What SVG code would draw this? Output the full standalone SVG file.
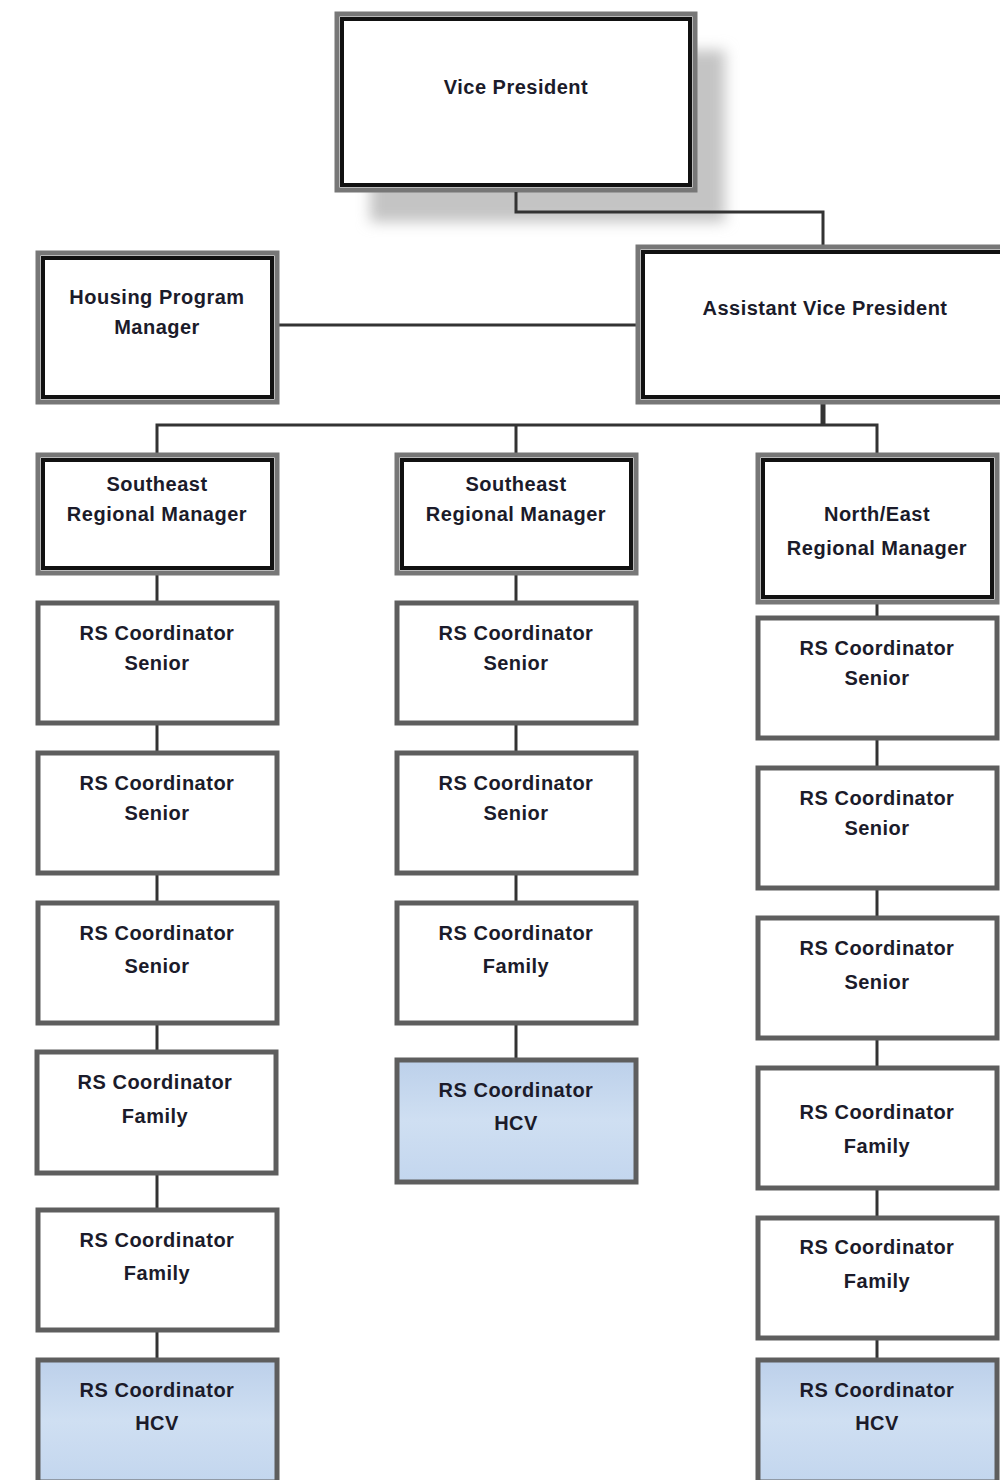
<svg xmlns="http://www.w3.org/2000/svg" width="1000" height="1480" viewBox="0 0 1000 1480">
<defs>
<filter id="blur" x="-20%" y="-20%" width="140%" height="140%"><feGaussianBlur stdDeviation="7"/></filter>
<linearGradient id="blue" x1="0" y1="0" x2="0" y2="1"><stop offset="0" stop-color="#bcd0ea"/><stop offset="0.5" stop-color="#cfdff2"/><stop offset="1" stop-color="#c3d6ee"/></linearGradient>
<style>
.t{font-family:"Liberation Sans Narrow","Liberation Sans",Arial,sans-serif;font-size:20px;fill:#1b1b2a;text-anchor:middle;font-weight:bold;letter-spacing:0.5px;}
.b{fill:#fff;stroke:#5e5e5e;stroke-width:5;}
.bl{fill:url(#blue);stroke:#5e5e5e;stroke-width:5;}
.m{fill:#fff;stroke:#777;stroke-width:5;}
.mi{fill:none;stroke:#111;stroke-width:4;}
.c{fill:none;stroke:#333;stroke-width:3;}
</style>
</defs>
<rect width="1000" height="1480" fill="#fff"/>
<g id="vp">
<rect x="370" y="50" width="355" height="172" fill="#c4c4c4" filter="url(#blur)"/>
<rect class="m" x="337" y="14" width="358" height="176"/>
<rect class="mi" x="342" y="19" width="348" height="166"/>
<text class="t" x="516" y="94">Vice President</text>
</g>
<g id="connectors">
<polyline class="c" points="516,192 516,212 823,212 823,245"/>
<line class="c" x1="277" y1="325" x2="636" y2="325"/>
<line class="c" x1="823" y1="402" x2="823" y2="425" style="stroke-width:5"/>
<polyline class="c" points="157,455 157,425 877,425 877,455"/>
<line class="c" x1="516" y1="425" x2="516" y2="455"/>
<line class="c" x1="157" y1="573" x2="157" y2="603"/>
<line class="c" x1="157" y1="723" x2="157" y2="753"/>
<line class="c" x1="157" y1="873" x2="157" y2="903"/>
<line class="c" x1="157" y1="1023" x2="157" y2="1052"/>
<line class="c" x1="157" y1="1173" x2="157" y2="1210"/>
<line class="c" x1="157" y1="1330" x2="157" y2="1360"/>
<line class="c" x1="516" y1="573" x2="516" y2="603"/>
<line class="c" x1="516" y1="723" x2="516" y2="753"/>
<line class="c" x1="516" y1="873" x2="516" y2="903"/>
<line class="c" x1="516" y1="1023" x2="516" y2="1060"/>
<line class="c" x1="877" y1="602" x2="877" y2="618"/>
<line class="c" x1="877" y1="738" x2="877" y2="768"/>
<line class="c" x1="877" y1="888" x2="877" y2="918"/>
<line class="c" x1="877" y1="1038" x2="877" y2="1068"/>
<line class="c" x1="877" y1="1188" x2="877" y2="1218"/>
<line class="c" x1="877" y1="1338" x2="877" y2="1360"/>
</g>
<g id="hpm">
<rect class="m" x="38" y="253" width="239" height="149"/>
<rect class="mi" x="43" y="258" width="229" height="139"/>
<text class="t" x="157" y="304">Housing Program</text>
<text class="t" x="157" y="334">Manager</text>
</g>
<g id="avp">
<rect class="m" x="638" y="247" width="370" height="155"/>
<rect class="mi" x="643" y="252" width="370" height="145"/>
<text class="t" x="825" y="315">Assistant Vice President</text>
</g>
<g id="se1">
<rect class="m" x="38" y="455" width="239" height="118"/>
<rect class="mi" x="43" y="460" width="229" height="108"/>
<text class="t" x="157" y="491">Southeast</text>
<text class="t" x="157" y="521">Regional Manager</text>
</g>
<g id="se2">
<rect class="m" x="397" y="455" width="239" height="118"/>
<rect class="mi" x="402" y="460" width="229" height="108"/>
<text class="t" x="516" y="491">Southeast</text>
<text class="t" x="516" y="521">Regional Manager</text>
</g>
<g id="ne">
<rect class="m" x="758" y="455" width="239" height="147"/>
<rect class="mi" x="763" y="460" width="229" height="137"/>
<text class="t" x="877" y="521">North/East</text>
<text class="t" x="877" y="555">Regional Manager</text>
</g>
<g id="c1n1"><rect class="b" x="38" y="603" width="239" height="120"/><text class="t" x="157" y="640">RS Coordinator</text><text class="t" x="157" y="670">Senior</text></g>
<g id="c1n2"><rect class="b" x="38" y="753" width="239" height="120"/><text class="t" x="157" y="790">RS Coordinator</text><text class="t" x="157" y="820">Senior</text></g>
<g id="c1n3"><rect class="b" x="38" y="903" width="239" height="120"/><text class="t" x="157" y="940">RS Coordinator</text><text class="t" x="157" y="973">Senior</text></g>
<g id="c1n4"><rect class="b" x="37" y="1052" width="239" height="121"/><text class="t" x="155" y="1089">RS Coordinator</text><text class="t" x="155" y="1123">Family</text></g>
<g id="c1n5"><rect class="b" x="38" y="1210" width="239" height="120"/><text class="t" x="157" y="1247">RS Coordinator</text><text class="t" x="157" y="1280">Family</text></g>
<g id="c1n6"><rect class="bl" x="38" y="1360" width="239" height="122"/><text class="t" x="157" y="1397">RS Coordinator</text><text class="t" x="157" y="1430">HCV</text></g>
<g id="c2n1"><rect class="b" x="397" y="603" width="239" height="120"/><text class="t" x="516" y="640">RS Coordinator</text><text class="t" x="516" y="670">Senior</text></g>
<g id="c2n2"><rect class="b" x="397" y="753" width="239" height="120"/><text class="t" x="516" y="790">RS Coordinator</text><text class="t" x="516" y="820">Senior</text></g>
<g id="c2n3"><rect class="b" x="397" y="903" width="239" height="120"/><text class="t" x="516" y="940">RS Coordinator</text><text class="t" x="516" y="973">Family</text></g>
<g id="c2n4"><rect class="bl" x="397" y="1060" width="239" height="122"/><text class="t" x="516" y="1097">RS Coordinator</text><text class="t" x="516" y="1130">HCV</text></g>
<g id="c3n1"><rect class="b" x="758" y="618" width="239" height="120"/><text class="t" x="877" y="655">RS Coordinator</text><text class="t" x="877" y="685">Senior</text></g>
<g id="c3n2"><rect class="b" x="758" y="768" width="239" height="120"/><text class="t" x="877" y="805">RS Coordinator</text><text class="t" x="877" y="835">Senior</text></g>
<g id="c3n3"><rect class="b" x="758" y="918" width="239" height="120"/><text class="t" x="877" y="955">RS Coordinator</text><text class="t" x="877" y="989">Senior</text></g>
<g id="c3n4"><rect class="b" x="758" y="1068" width="239" height="120"/><text class="t" x="877" y="1119">RS Coordinator</text><text class="t" x="877" y="1153">Family</text></g>
<g id="c3n5"><rect class="b" x="758" y="1218" width="239" height="120"/><text class="t" x="877" y="1254">RS Coordinator</text><text class="t" x="877" y="1288">Family</text></g>
<g id="c3n6"><rect class="bl" x="758" y="1360" width="239" height="122"/><text class="t" x="877" y="1397">RS Coordinator</text><text class="t" x="877" y="1430">HCV</text></g>
</svg>
